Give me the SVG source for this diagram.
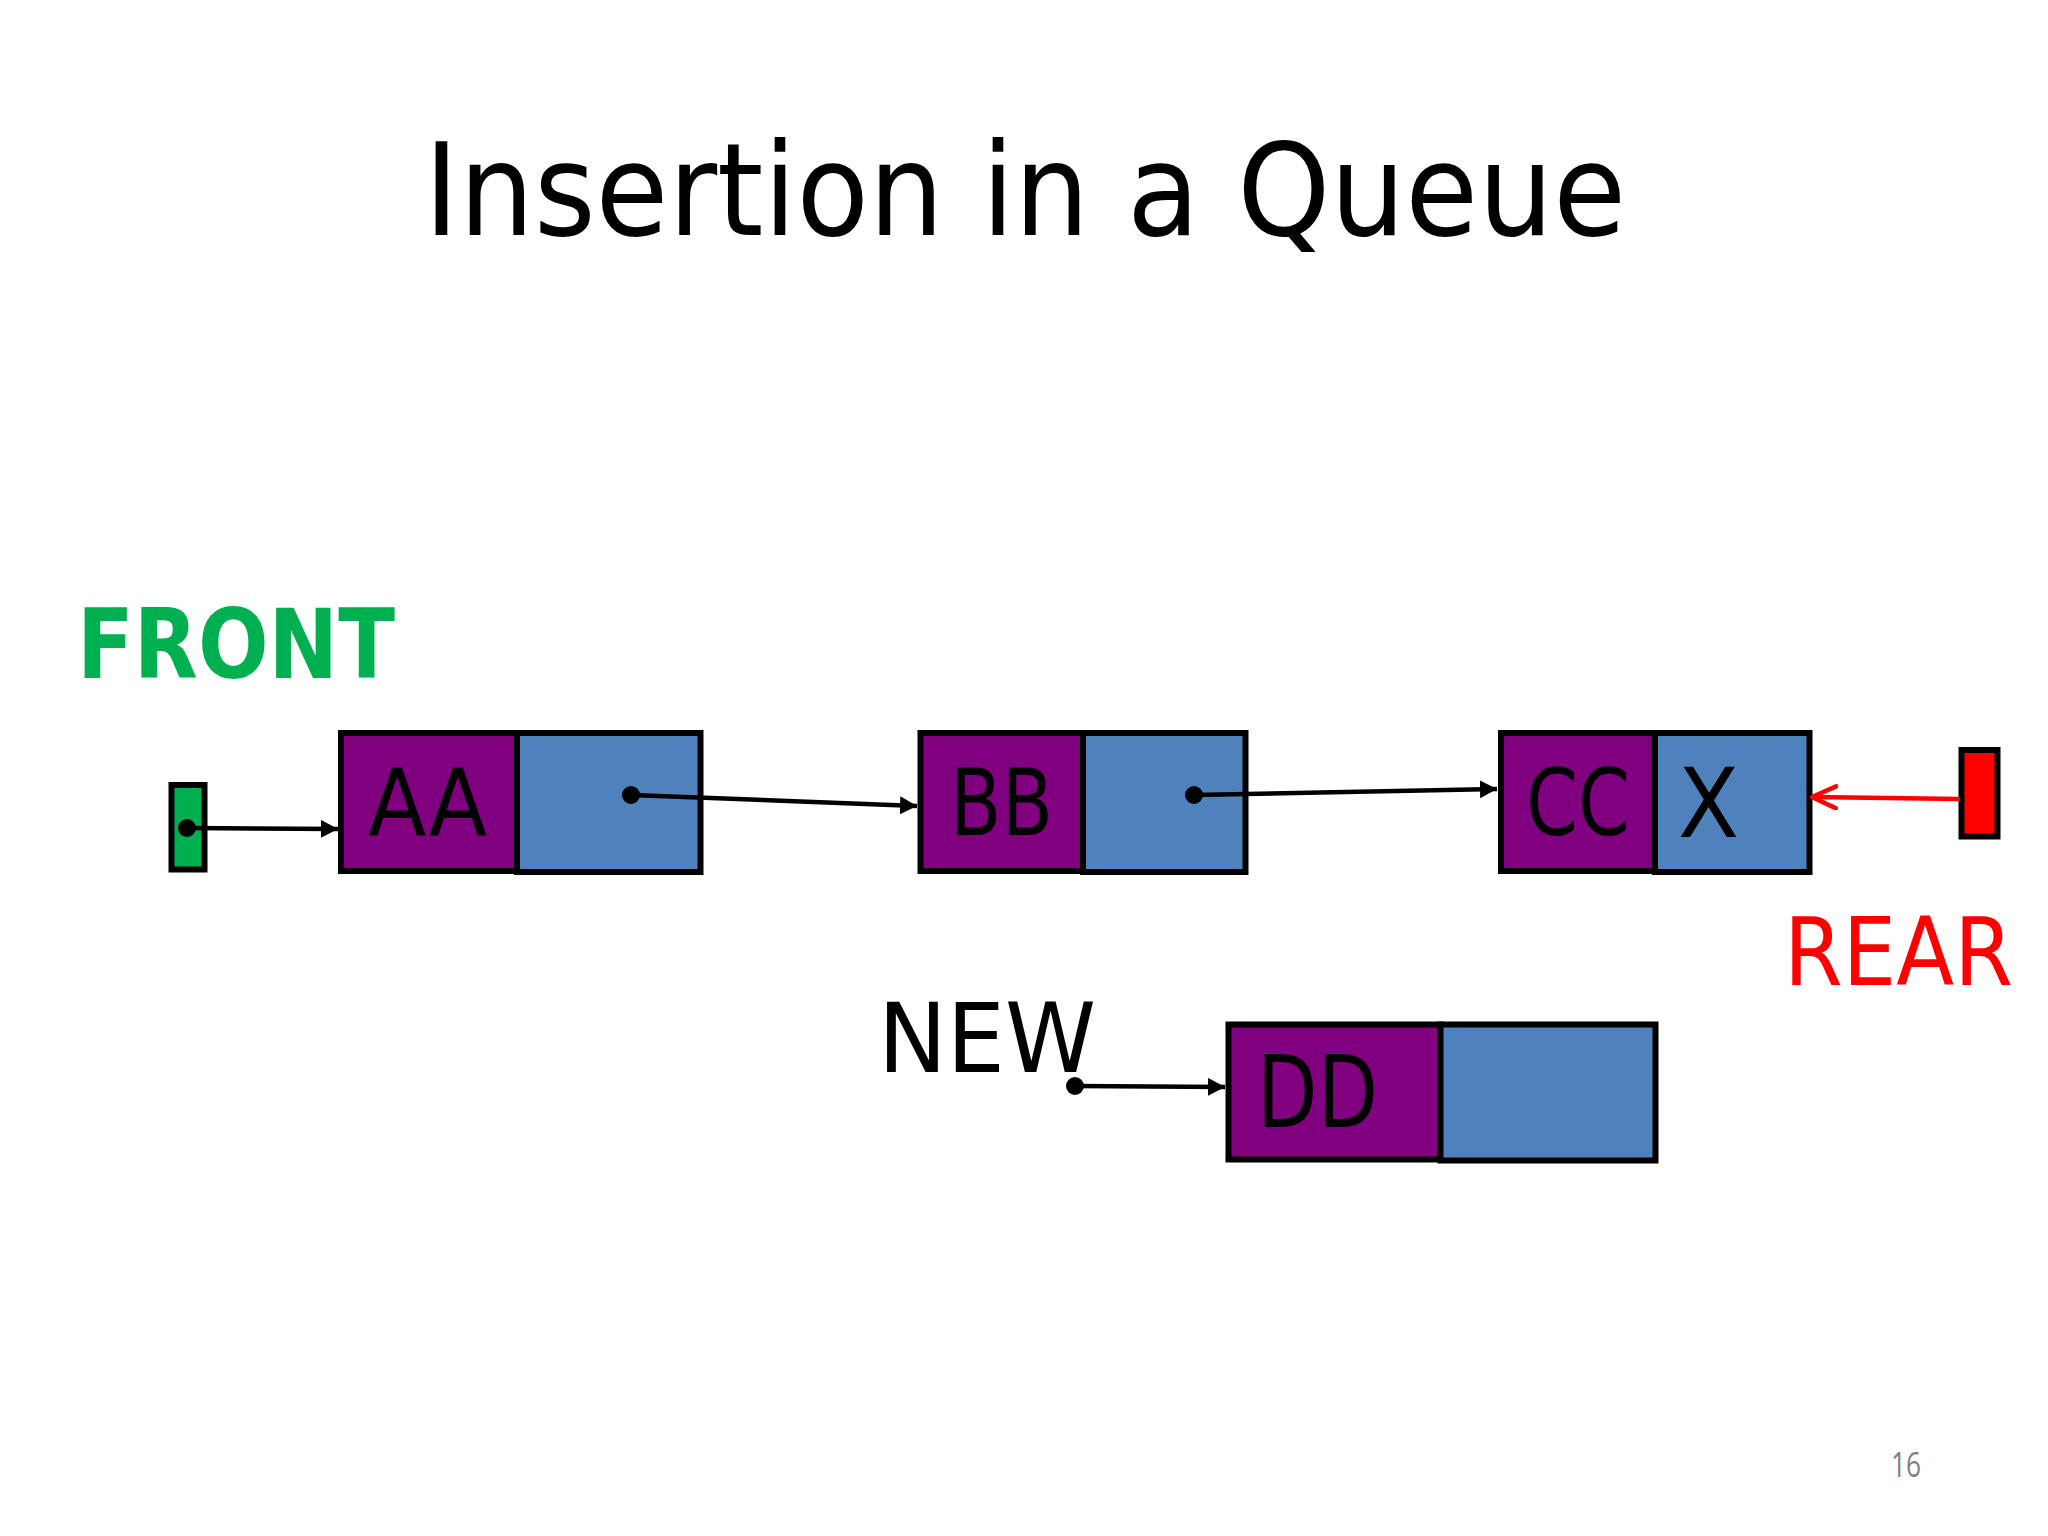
<svg xmlns="http://www.w3.org/2000/svg" width="2048" height="1536" viewBox="0 0 2048 1536">
  <style>
    .lbl { font-family: "DejaVu Sans", "Liberation Sans", sans-serif; }
    .data { fill: #800080; stroke: #000; stroke-width: 6; }
    .ptr { fill: #4F81BD; stroke: #000; stroke-width: 6; }
    .cell { font-family: "DejaVu Sans", "Liberation Sans", sans-serif; fill: #000; }
    .conn { stroke: #000; stroke-width: 4.5; fill: none; }
    .dot { fill: #000; }
  </style>
  <defs>
    <marker id="arrow" markerUnits="userSpaceOnUse" markerWidth="20" markerHeight="20" refX="17" refY="9" orient="auto">
      <path d="M0,0 L17,9 L0,18 z" fill="#000"/>
    </marker>
    <marker id="open-red" markerUnits="userSpaceOnUse" markerWidth="30" markerHeight="30" refX="26" refY="13" orient="auto">
      <path d="M2,2 L26,13 L2,24" fill="none" stroke="#FF0000" stroke-width="4.5" stroke-linecap="round" stroke-linejoin="round"/>
    </marker>
  </defs>
  <rect x="0" y="0" width="2048" height="1536" fill="#FFFFFF"/>

  <g id="title">
    <text class="lbl" x="424" y="235" font-size="128" textLength="1202" lengthAdjust="spacingAndGlyphs" fill="#000">Insertion in a Queue</text>
  </g>

  <g id="front">
    <text class="lbl" x="77" y="678" font-size="96" font-weight="bold" textLength="318" lengthAdjust="spacingAndGlyphs" fill="#00B050">FRONT</text>
    <rect x="171.5" y="785" width="33" height="84.5" fill="#00B050" stroke="#000" stroke-width="6"/>
  </g>

  <g id="node-aa">
    <rect class="data" x="341" y="733" width="176" height="138"/>
    <rect class="ptr" x="517" y="733" width="183.5" height="139"/>
    <text class="cell" x="368" y="835" font-size="92" textLength="119" lengthAdjust="spacingAndGlyphs">AA</text>
  </g>

  <g id="node-bb">
    <rect class="data" x="920.5" y="733" width="162.5" height="138"/>
    <rect class="ptr" x="1083" y="733" width="162.5" height="139"/>
    <text class="cell" x="950" y="835" font-size="92" textLength="103" lengthAdjust="spacingAndGlyphs">BB</text>
  </g>

  <g id="node-cc">
    <rect class="data" x="1501" y="733" width="154" height="138"/>
    <rect class="ptr" x="1655" y="733" width="154.5" height="139"/>
    <text class="cell" x="1526" y="835" font-size="92" textLength="104" lengthAdjust="spacingAndGlyphs">CC</text>
    <text class="cell" x="1678" y="837" font-size="96" textLength="61" lengthAdjust="spacingAndGlyphs">X</text>
  </g>

  <g id="rear">
    <rect x="1961.5" y="750" width="36" height="86.5" fill="#FF0000" stroke="#000" stroke-width="6"/>
    <text class="lbl" x="1784" y="985" font-size="95" textLength="229" lengthAdjust="spacingAndGlyphs" fill="#FF0000">REAR</text>
  </g>

  <g id="new">
    <text class="lbl" x="878" y="1072" font-size="96" textLength="218" lengthAdjust="spacingAndGlyphs" fill="#000">NEW</text>
  </g>

  <g id="node-dd">
    <rect class="data" x="1228.5" y="1024.5" width="212" height="135"/>
    <rect class="ptr" x="1440.5" y="1024.5" width="215" height="136"/>
    <text class="cell" x="1257" y="1127" font-size="99" textLength="121" lengthAdjust="spacingAndGlyphs">DD</text>
  </g>

  <g id="connectors">
    <line class="conn" x1="187" y1="828" x2="338" y2="829" marker-end="url(#arrow)"/>
    <circle class="dot" cx="187" cy="828" r="9"/>
    <line class="conn" x1="631" y1="795" x2="917" y2="806" marker-end="url(#arrow)"/>
    <circle class="dot" cx="631" cy="795" r="9"/>
    <line class="conn" x1="1194" y1="795" x2="1497" y2="789" marker-end="url(#arrow)"/>
    <circle class="dot" cx="1194" cy="795" r="9"/>
    <line x1="1960" y1="799" x2="1812" y2="797" stroke="#FF0000" stroke-width="4.5" marker-end="url(#open-red)"/>
    <line class="conn" x1="1075" y1="1086" x2="1225" y2="1087" marker-end="url(#arrow)"/>
    <circle class="dot" cx="1075" cy="1086" r="9"/>
  </g>

  <g id="page-number">
    <text x="1891" y="1477" font-family="'Open Sans', 'Liberation Sans', sans-serif" font-size="34" textLength="30" lengthAdjust="spacingAndGlyphs" fill="#7F7F7F">16</text>
  </g>
</svg>
